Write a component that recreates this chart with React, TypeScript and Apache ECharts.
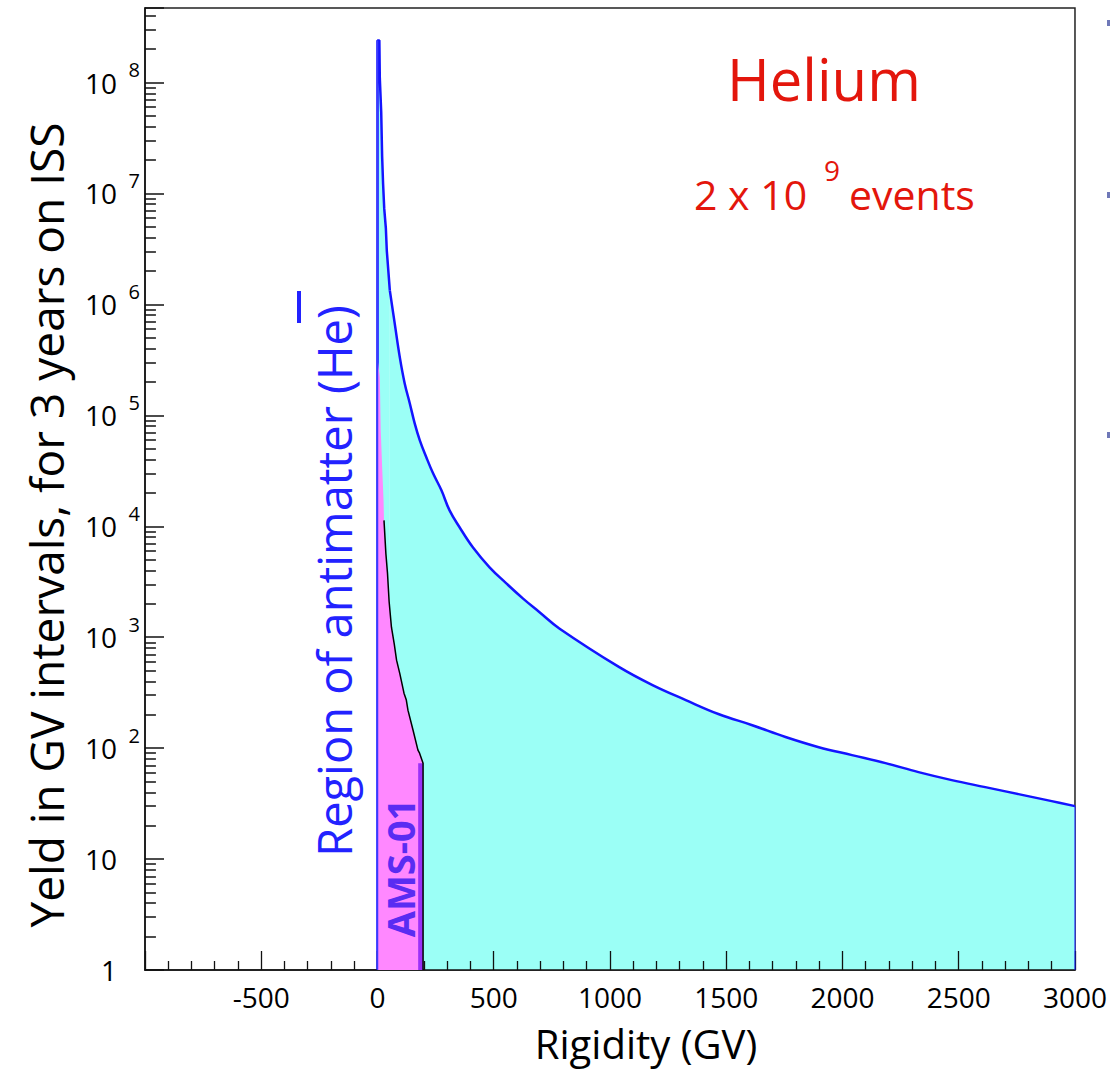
import React, { useEffect, useRef } from "react";
import * as echarts from "echarts";

// Axis ranges
const xMin = -1000;
const xMax = 3000;
const xInterval = 500;
const yMin = 1;
const yMax = 4.7e8;

// Helium yield (blue histogram), rigidity in GV — peak part (histogram steps)
const heliumPeakRigidity = [0, 0, 8, 10, 16, 20, 24, 29, 36, 40, 53];
const heliumPeakYield = [1, 2.4e8, 2.4e8, 1.09e8, 5.4e7, 2.15e7, 1.23e7, 7.3e6, 4.84e6, 3.06e6, 1.34e6];
// tail part
const heliumTailRigidity = [53, 74, 96, 117, 139, 160, 182, 210, 239, 275, 310, 353, 410, 482, 554, 625, 697, 782, 1040, 1183, 1326, 1469, 1612, 1755, 1898, 2041, 2185, 2327, 2470, 2614, 2757, 2900, 3000];
const heliumTailYield = [1.34e6, 6.75e5, 3.33e5, 1.94e5, 1.28e5, 8.47e4, 5.95e4, 4.19e4, 3.0e4, 2.11e4, 1.39e4, 9.8e3, 6.47e3, 4.27e3, 3.06e3, 2.24e3, 1.68e3, 1.2e3, 537, 370, 271, 202, 161, 126, 102, 86.5, 73.3, 60.8, 51.5, 44.5, 38.5, 33.3, 30];

// AMS-01 region (pink)
const amsRigidity = [0, 0, 10, 14, 20, 26, 28, 36, 43, 50, 60, 72, 82, 96, 114, 124, 131, 153, 174, 181, 196, 196];
const amsYield = [1, 3.3e5, 2.2e5, 7.3e4, 3.4e4, 1.71e4, 1.13e4, 5.7e3, 3.77e3, 2.1e3, 1.23e3, 870, 621, 470, 313, 271, 220, 145, 96, 90, 73, 1];
const amsOutlineStart = 6;

// last AMS-01 bin (purple strip)
const amsLastBinRigidity = [175, 196];
const amsLastBinYield = [73, 73];

// minor tick positions of the log axis
const minorMultipliers = [2, 3, 4, 5, 6, 7, 8, 9];
const decades = [0, 1, 2, 3, 4, 5, 6, 7, 8];
const minorTickLengthGV = 47; // about 11 px

const FONT = "Open Sans";
const BLUE = "#1414ff";
const RED = "#e3160c";

const exponentOf = (v: number) => {
  const e = Math.log10(v);
  const r = Math.round(e);
  return Math.abs(e - r) > 1e-6 ? null : r;
};

export default function App() {
  const ref = useRef<HTMLDivElement>(null);
  useEffect(() => {
    if (!ref.current) return;
    const chart = echarts.init(ref.current, null, { renderer: "svg" });

    const peakData = heliumPeakRigidity.map((x, i) => [x, heliumPeakYield[i]]);
    const tailData = heliumTailRigidity.map((x, i) => [x, heliumTailYield[i]]);
    const lastTail = tailData[tailData.length - 1];
    const amsData = amsRigidity.map((x, i) => [x, amsYield[i]]);
    const amsOutline = amsData.slice(amsOutlineStart);
    const lastBin = amsLastBinRigidity.map((x, i) => [x, amsLastBinYield[i]]);
    const minorTickValues: number[] = [];
    decades.forEach((d) =>
      minorMultipliers.forEach((m) => {
        const v = m * Math.pow(10, d);
        if (v < yMax) minorTickValues.push(v);
      })
    );
    const tickLines = minorTickValues.map((v) => [{ coord: [xMin, v] }, { coord: [xMin + minorTickLengthGV, v] }]);

    const yAxisBase = {
      type: "log",
      logBase: 10,
      min: yMin,
      max: yMax,
      splitNumber: 10,
      position: "left",
      offset: 0,
      splitLine: { show: false },
    };

    const option: any = {
      animation: false,
      grid: {
        left: 145,
        right: 33,
        top: 8,
        bottom: 102,
        show: true,
        borderColor: "#222",
        borderWidth: 1.5,
      },
      xAxis: {
        type: "value",
        min: xMin,
        max: xMax,
        interval: xInterval,
        z: 3,
        axisLine: { onZero: false, lineStyle: { color: "#111", width: 1.5 } },
        axisTick: { inside: true, length: 19, lineStyle: { color: "#111", width: 1.3 } },
        minorTick: { show: true, splitNumber: 5, length: 9, lineStyle: { color: "#111", width: 1.3 } },
        splitLine: { show: false },
        axisLabel: {
          margin: 13,
          fontFamily: FONT,
          fontSize: 28,
          color: "#000",
          formatter: (v: number) => (v === xMin ? "" : String(v)),
        },
      },
      yAxis: [
        {
          ...yAxisBase,
          axisLine: { onZero: false, lineStyle: { color: "#111", width: 1.5 } },
          axisTick: { show: true, inside: true, length: 19, lineStyle: { color: "#111", width: 1.5 } },
          axisLabel: {
            margin: 28,
            fontFamily: FONT,
            fontSize: 28,
            color: "#000",
            formatter: (v: number) => {
              const r = exponentOf(v);
              if (r === null) return "";
              return r === 0 ? "1" : "10";
            },
          },
        },
        {
          ...yAxisBase,
          axisTick: { show: false },
          axisLine: { show: false, onZero: false },
          axisLabel: {
            margin: 5,
            fontFamily: FONT,
            fontSize: 20,
            color: "#000",
            verticalAlign: "bottom",
            padding: [0, 0, 3, 0],
            formatter: (v: number) => {
              const r = exponentOf(v);
              if (r === null || r < 2) return "";
              return String(r);
            },
          },
        },
      ],
      series: [
        {
          type: "line",
          data: peakData,
          showSymbol: false,
          symbol: "none",
          z: 2,
          lineStyle: { color: BLUE, width: 2.5 },
          areaStyle: { color: "#9bfff6", opacity: 1, origin: "start" },
        },
        {
          type: "line",
          data: tailData,
          showSymbol: false,
          symbol: "none",
          smooth: 0.4,
          z: 2,
          lineStyle: { color: BLUE, width: 2.5 },
          areaStyle: { color: "#9bfff6", opacity: 1, origin: "start" },
        },
        {
          type: "line",
          data: [[lastTail[0], yMin], lastTail],
          showSymbol: false,
          symbol: "none",
          z: 3,
          lineStyle: { color: BLUE, width: 1 },
        },
        {
          type: "line",
          data: amsData,
          showSymbol: false,
          symbol: "none",
          z: 4,
          lineStyle: { width: 0 },
          areaStyle: { color: "#ff88ff", opacity: 1, origin: "start" },
        },
        {
          type: "line",
          data: lastBin,
          showSymbol: false,
          symbol: "none",
          z: 5,
          lineStyle: { width: 0 },
          areaStyle: { color: "#9a30f8", opacity: 1, origin: "start" },
        },
        {
          type: "line",
          data: amsOutline,
          showSymbol: false,
          symbol: "none",
          z: 6,
          lineStyle: { color: "#000", width: 1.5 },
        },
        {
          type: "line",
          data: peakData.slice(0, 2),
          showSymbol: false,
          symbol: "none",
          z: 6,
          lineStyle: { color: "#3a3aff", width: 1.5 },
          markLine: {
            symbol: ["none", "none"],
            label: { show: false },
            lineStyle: { color: "#111", width: 1.5, type: "solid" },
            data: tickLines,
          },
        },
      ],
      graphic: [
        {
          type: "text",
          x: 727,
          y: 78,
          style: { text: "Helium", font: `58px "${FONT}"`, fill: RED, textAlign: "left", textVerticalAlign: "middle" },
        },
        {
          type: "text",
          x: 694,
          y: 194,
          style: { text: "2 x 10", font: `41px "${FONT}"`, fill: RED, textAlign: "left", textVerticalAlign: "middle" },
        },
        {
          type: "text",
          x: 824,
          y: 170,
          style: { text: "9", font: `28px "${FONT}"`, fill: RED, textAlign: "left", textVerticalAlign: "middle" },
        },
        {
          type: "text",
          x: 849,
          y: 194,
          style: { text: "events", font: `41px "${FONT}"`, fill: RED, textAlign: "left", textVerticalAlign: "middle" },
        },
        {
          type: "text",
          x: 334,
          y: 581,
          rotation: Math.PI / 2,
          style: { text: "Region of antimatter (He)", font: `47px "${FONT}"`, fill: "#2222ff", textAlign: "center", textVerticalAlign: "middle" },
        },
        {
          type: "rect",
          shape: { x: 297, y: 291, width: 4, height: 32 },
          style: { fill: "#2222ff" },
        },
        {
          type: "text",
          x: 400,
          y: 868,
          rotation: Math.PI / 2,
          style: { text: "AMS-01", font: `bold 38px "${FONT}"`, fill: "#5a2cf2", textAlign: "center", textVerticalAlign: "middle" },
          z: 100,
        },
        {
          type: "text",
          x: 46,
          y: 525,
          rotation: Math.PI / 2,
          style: { text: "Yeld in GV intervals, for 3 years on ISS", font: `46px "${FONT}"`, fill: "#000", textAlign: "center", textVerticalAlign: "middle" },
        },
        {
          type: "text",
          x: 646,
          y: 1043,
          style: { text: "Rigidity (GV)", font: `40px "${FONT}"`, fill: "#000", textAlign: "center", textVerticalAlign: "middle" },
        },
        { type: "rect", shape: { x: 1107, y: 20, width: 3, height: 6 }, style: { fill: "#6f78b8" } },
        { type: "rect", shape: { x: 1107, y: 192, width: 3, height: 6 }, style: { fill: "#6f78b8" } },
        { type: "rect", shape: { x: 1107, y: 432, width: 3, height: 6 }, style: { fill: "#6f78b8" } },
      ],
    };
    chart.setOption(option);
    return () => chart.dispose();
  }, []);
  return (
    <div
      ref={ref}
      style={{ position: "absolute", left: 0, top: 0, width: 1110, height: 1072, background: "#fff" }}
    />
  );
}
